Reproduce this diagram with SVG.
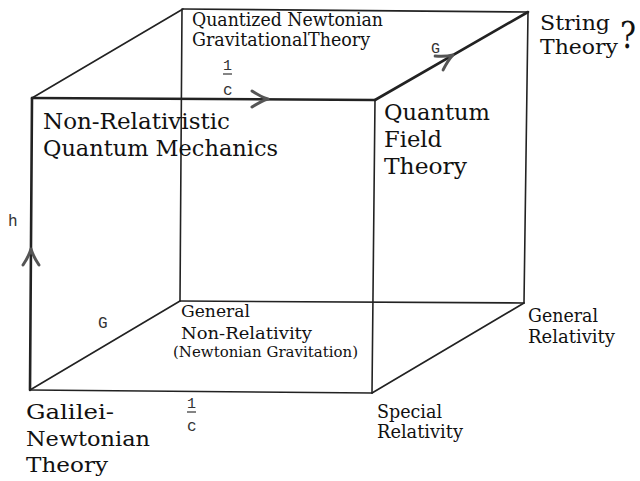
<svg xmlns="http://www.w3.org/2000/svg" width="640" height="481" viewBox="0 0 640 481">
<style>
.e{stroke:#222;stroke-width:1.6;fill:none;stroke-linecap:round}
.t{stroke-width:2.6}
.ah{stroke:#555;stroke-width:3;fill:none;stroke-linecap:round;stroke-linejoin:round}
.s{font-family:"DejaVu Serif","Liberation Serif",serif;fill:#111}
.m{font-family:"Liberation Mono","DejaVu Sans Mono",monospace;fill:#333}
.bar{stroke:#333;stroke-width:1.2}
</style>
<defs>
<path id="chev" d="M-16,-8 Q-7,-2 0,0 Q-7,2 -16,8"/>
</defs>
<rect width="640" height="481" fill="#fff"/>
<g id="connectors">
<!-- back face -->
<line class="e" x1="183" y1="9" x2="528" y2="12"/>
<line class="e" x1="182" y1="9" x2="180" y2="301"/>
<line class="e" x1="180" y1="301" x2="524" y2="303"/>
<line class="e" x1="528" y1="12" x2="524" y2="303"/>
<!-- diagonals -->
<line class="e" x1="32" y1="98" x2="183" y2="9"/>
<line class="e t" x1="375" y1="100" x2="528" y2="12"/>
<line class="e" x1="30" y1="390" x2="180" y2="301"/>
<line class="e" x1="372" y1="393" x2="524" y2="303"/>
<!-- front face -->
<line class="e t" x1="32" y1="98" x2="375" y2="100"/>
<line class="e t" x1="32" y1="98" x2="30" y2="390"/>
<line class="e" x1="30" y1="390" x2="372" y2="393"/>
<line class="e" x1="375" y1="100" x2="372" y2="393"/>
<!-- arrowheads -->
<use href="#chev" class="ah" transform="translate(268,99)"/>
<use href="#chev" class="ah" transform="translate(31,249) rotate(-90)"/>
<use href="#chev" class="ah" transform="translate(453,55) rotate(-29.9)"/>
</g>
<g id="axis-labels">
<text class="m" x="8" y="226" font-size="16">h</text>
<text class="m" x="98" y="328" font-size="16">G</text>
<text class="m" x="431" y="53" font-size="15">G</text>
<text class="m" x="223" y="70" font-size="15">1</text>
<line class="bar" x1="223" y1="74" x2="232" y2="74"/>
<text class="m" x="223" y="95" font-size="16">c</text>
<text class="m" x="187" y="408" font-size="15">1</text>
<line class="bar" x1="187" y1="412" x2="196" y2="412"/>
<text class="m" x="187" y="431" font-size="16">c</text>
</g>
<g id="node-qngt">
<text class="s" x="192" y="26" font-size="18" textLength="191" lengthAdjust="spacingAndGlyphs">Quantized Newtonian</text>
<text class="s" x="192" y="46" font-size="18" textLength="178" lengthAdjust="spacingAndGlyphs">GravitationalTheory</text>
</g>
<g id="node-string">
<text class="s" x="540" y="30" font-size="20" textLength="70" lengthAdjust="spacingAndGlyphs">String</text>
<text class="s" x="540" y="53.5" font-size="20" textLength="78" lengthAdjust="spacingAndGlyphs">Theory</text>
<text class="s" x="620" y="48" font-size="38" textLength="16" lengthAdjust="spacingAndGlyphs">?</text>
</g>
<g id="node-nrqm">
<text class="s" x="43" y="129" font-size="23" textLength="187" lengthAdjust="spacingAndGlyphs">Non-Relativistic</text>
<text class="s" x="43" y="156" font-size="23" textLength="235" lengthAdjust="spacingAndGlyphs">Quantum Mechanics</text>
</g>
<g id="node-qft">
<text class="s" x="384" y="120" font-size="22" textLength="106" lengthAdjust="spacingAndGlyphs">Quantum</text>
<text class="s" x="384" y="147" font-size="22" textLength="58" lengthAdjust="spacingAndGlyphs">Field</text>
<text class="s" x="384" y="174" font-size="22" textLength="83" lengthAdjust="spacingAndGlyphs">Theory</text>
</g>
<g id="node-gnr">
<text class="s" x="181" y="317" font-size="16.5" textLength="69" lengthAdjust="spacingAndGlyphs">General</text>
<text class="s" x="181" y="339" font-size="16.5" textLength="131" lengthAdjust="spacingAndGlyphs">Non-Relativity</text>
<text class="s" x="173" y="357" font-size="14" textLength="185" lengthAdjust="spacingAndGlyphs">(Newtonian Gravitation)</text>
</g>
<g id="node-gr">
<text class="s" x="528" y="322" font-size="18" textLength="70" lengthAdjust="spacingAndGlyphs">General</text>
<text class="s" x="528" y="343" font-size="18" textLength="87" lengthAdjust="spacingAndGlyphs">Relativity</text>
</g>
<g id="node-gnt">
<text class="s" x="26" y="419" font-size="21" textLength="88" lengthAdjust="spacingAndGlyphs">Galilei-</text>
<text class="s" x="26" y="446" font-size="21" textLength="124" lengthAdjust="spacingAndGlyphs">Newtonian</text>
<text class="s" x="26" y="472" font-size="21" textLength="82" lengthAdjust="spacingAndGlyphs">Theory</text>
</g>
<g id="node-sr">
<text class="s" x="377" y="418" font-size="18" textLength="65" lengthAdjust="spacingAndGlyphs">Special</text>
<text class="s" x="377" y="438" font-size="18" textLength="86" lengthAdjust="spacingAndGlyphs">Relativity</text>
</g>
</svg>
